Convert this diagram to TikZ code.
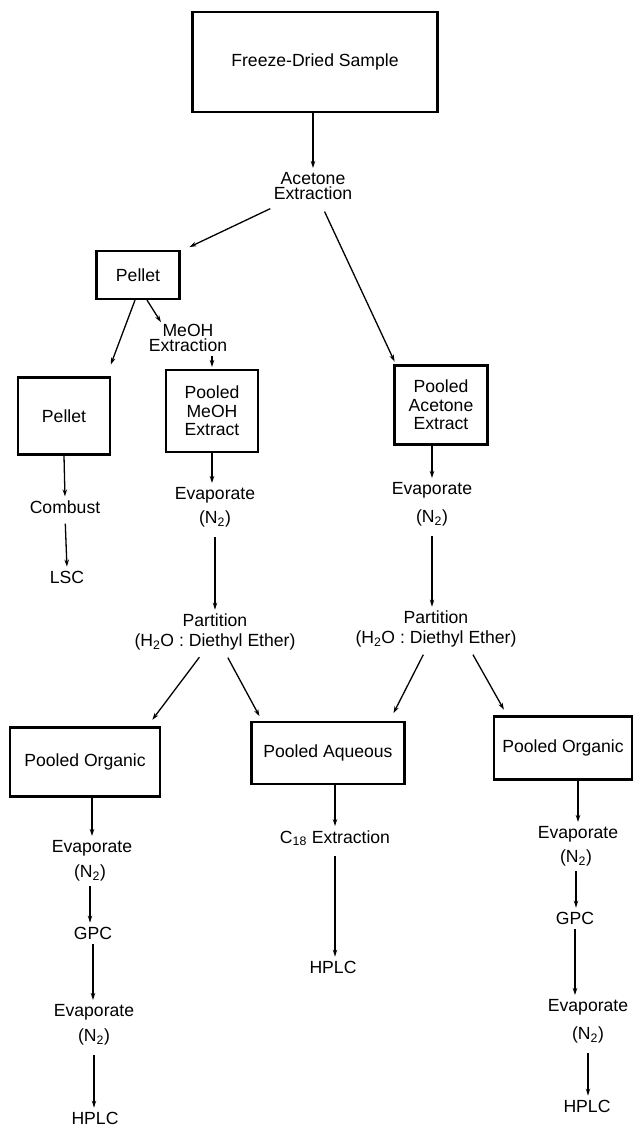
\documentclass[tikz,border=0pt]{standalone}
\usepackage{fontspec}
\setmainfont{Liberation Sans}
\usetikzlibrary{arrows.meta,calc}
\newcommand{\lblfont}{\fontsize{17.6}{18.5}\selectfont}
\begin{document}
\begin{tikzpicture}[x=1pt,y=-1pt,
  box/.style={draw, line width=2.2pt, inner sep=0pt, align=center, font=\lblfont},
  lbl/.style={inner sep=2pt, align=center, font=\lblfont},
  arr/.style={line width=1.3pt, -{Stealth[length=7pt,width=4.5pt]}, shorten >=2pt},
  tarr/.style={arr, shorten <=8pt},
]
\fill[white] (0,0) rectangle (634,1128);
\useasboundingbox (0,0) rectangle (634,1128);

% boxes and labels
\node[box, minimum width=245pt, minimum height=100pt] (fds) at (315,62) {Freeze-Dried Sample};
\node[lbl, font=\fontsize{17.6}{15.5}\selectfont] (ace) at (313,186) {Acetone\\Extraction};
\node[box, minimum width=83pt, minimum height=48pt] (pel1) at (138,275) {Pellet};
\node[lbl, font=\fontsize{17.6}{15.5}\selectfont] (meoh) at (188,338) {MeOH\\Extraction};
\node[box, minimum width=92pt, minimum height=77pt] (pel2) at (64,416) {Pellet};
\node[box, minimum width=92pt, minimum height=82pt] (pmeoh) at (212,411) {Pooled\\MeOH\\Extract};
\node[box, minimum width=93pt, minimum height=79pt] (pace) at (441,405) {Pooled\\Acetone\\Extract};

\node[lbl] (comb) at (65,507) {Combust};
\node[lbl] (lsc) at (67,577) {LSC};
\node[lbl] (ev1) at (215,495) {Evaporate};
\node[lbl] (n1) at (215,519) {(N\textsubscript{2})};
\node[lbl] (ev2) at (432,490) {Evaporate};
\node[lbl] (n2) at (432,518) {(N\textsubscript{2})};

\node[lbl, font=\fontsize{17.6}{20}\selectfont] (part1) at (215,632) {Partition\\(H\textsubscript{2}O : Diethyl Ether)};
\node[lbl, font=\fontsize{17.6}{20}\selectfont] (part2) at (436,629) {Partition\\(H\textsubscript{2}O : Diethyl Ether)};

\node[box, minimum width=150pt, minimum height=69pt] (org1) at (85,762) {Pooled Organic};
\node[box, minimum width=153pt, minimum height=62pt] (aq) at (328,753) {Pooled Aqueous};
\node[box, minimum width=138pt, minimum height=63pt] (org2) at (563,748) {Pooled Organic};

\node[lbl] (ev3) at (92,848) {Evaporate};
\node[lbl] (n3) at (90,873) {(N\textsubscript{2})};
\node[lbl] (gpc1) at (93,933) {GPC};
\node[lbl] (ev4) at (94,1012) {Evaporate};
\node[lbl] (n4) at (94,1037) {(N\textsubscript{2})};
\node[lbl] (hplc1) at (95,1118) {HPLC};

\node[lbl] (c18) at (335,838) {C\textsubscript{18} Extraction};
\node[lbl] (hplc2) at (333,967) {HPLC};

\node[lbl] (ev5) at (578,834) {Evaporate};
\node[lbl] (n5) at (576,858) {(N\textsubscript{2})};
\node[lbl] (gpc2) at (575,918) {GPC};
\node[lbl] (ev6) at (588,1007) {Evaporate};
\node[lbl] (n6) at (588,1035) {(N\textsubscript{2})};
\node[lbl] (hplc3) at (587,1106) {HPLC};

% connectors
\draw[arr] (fds.south -| ace.north) -- (ace.north);
\draw[arr, shorten <=6pt] ($(ace.south west)+(4,4)$) -- ($(pel1.north east)+(7,-2)$);
\draw[arr, shorten <=6pt] ($(ace.south)+(9,4)$) -- ($(pace.north west)+(2,-1)$);
\draw[arr] ($(pel1.south)+(-3,0)$) -- ($(pel2.north east)+(-1,-10)$);
\draw[arr] ($(pel1.south)+(9,0)$) -- ($(meoh.north)+(-26,2)$);
\draw[arr, shorten <=2pt] (meoh.south -| pmeoh.north) -- (pmeoh.north);

\draw[arr] (pel2.south) -- (comb.north);
\draw[tarr] (comb.south) -- (lsc.north);
\draw[arr] (pmeoh.south) -- (pmeoh.south |- ev1.north);
\draw[tarr] (n1.south) -- (n1.south |- part1.north);
\draw[arr] (pace.south -| ev2.north) -- (ev2.north);
\draw[tarr] (n2.south) -- (n2.south |- part2.north);

\draw[arr, shorten <=6pt] ($(part1.south)+(-12,0)$) -- ($(org1.north east)+(-10,-5)$);
\draw[arr, shorten <=6pt] ($(part1.south)+(10,0)$) -- ($(aq.north west)+(10,-3)$);
\draw[arr, shorten <=6pt] ($(part2.south)+(-10,0)$) -- ($(aq.north east)+(-13,-6)$);
\draw[arr, shorten <=6pt] ($(part2.south)+(34,0)$) -- ($(org2.north west)+(12,-4)$);

\draw[arr] (org1.south -| ev3.north) -- (ev3.north);
\draw[tarr, shorten <=3pt] (n3.south) -- (n3.south |- gpc1.north);
\draw[tarr, shorten <=3pt] (gpc1.south) -- (gpc1.south |- ev4.north);
\draw[tarr] (n4.south) -- (n4.south |- hplc1.north);

\draw[arr] (aq.south -| c18.north) -- (c18.north);
\draw[tarr] (c18.south) -- (c18.south |- hplc2.north);

\draw[arr] (org2.south -| ev5.north) -- (ev5.north);
\draw[tarr, shorten <=3pt] (n5.south) -- (n5.south |- gpc2.north);
\draw[tarr, shorten <=3pt] (gpc2.south) -- (gpc2.south |- ev6.north);
\draw[tarr] (n6.south) -- (n6.south |- hplc3.north);
\end{tikzpicture}
\end{document}
